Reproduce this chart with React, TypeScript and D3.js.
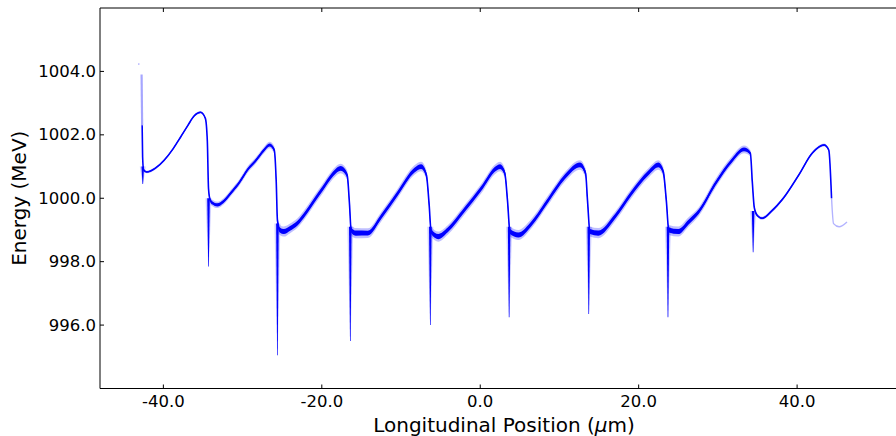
import React from "react";
import * as d3 from "d3";

// ---- data ----
const posX = [
  -42.68, -42.62, -42.5, -42.1, -41.0, -39.9, -38.8, -37.8, -36.9, -36.1, -35.3, -34.7, -34.45, -34.3, -34.1,
  -33.8, -33.2, -32.4, -31.5, -30.4, -29.4, -28.3, -27.3, -26.6, -26.0, -25.75, -25.6, -25.3, -24.8, -24.0,
  -23.1, -22.0, -20.9, -19.9, -18.85, -17.6, -16.8, -16.5, -16.3, -15.7, -14.2, -12.5, -10.4, -8.3, -7.45,
  -6.8, -6.45, -6.2, -5.3, -4.1, -2.0, 0.14, 2.0, 2.5, 3.1, 3.45, 3.75, 4.8, 6.5, 8.6, 10.7, 12.6, 13.3, 13.55,
  13.85, 14.9, 17.0, 19.1, 21.2, 22.5, 23.1, 23.5, 23.8, 25.0, 26.3, 27.6, 29.7, 31.8, 33.3, 34.1, 34.35, 34.6,
  35.0, 35.6, 36.8, 38.1, 40.2, 41.9, 43.4, 44.0, 44.35,
];
const energy = [
  1002.3, 1001.3, 1000.9, 1000.83, 1000.95, 1001.2, 1001.55, 1001.94, 1002.3, 1002.6, 1002.71, 1002.52, 1001.8, 1000.3, 999.95,
  999.85, 999.79, 999.9, 1000.16, 1000.5, 1000.89, 1001.2, 1001.52, 1001.68, 1001.52, 1000.5, 999.3, 999.0, 998.95, 999.05,
  999.21, 999.55, 999.95, 1000.3, 1000.68, 1000.94, 1000.73, 999.8, 999.0, 998.9, 998.9, 999.42, 1000.16, 1000.89, 1001.0,
  1000.73, 999.8, 998.95, 998.79, 999.0, 999.63, 1000.31, 1000.94, 1001.0, 1000.79, 999.9, 998.95, 998.84, 999.21, 999.95, 1000.68, 1001.05, 1000.79, 999.9,
  998.95, 998.9, 999.42, 1000.16, 1000.79, 1001.05, 1000.84, 999.9, 999.0, 998.95, 999.25, 999.58, 1000.47, 1001.2, 1001.54, 1001.42, 1000.5, 999.7,
  999.45, 999.37, 999.6, 999.95, 1000.73, 1001.42, 1001.68, 1001.52, 1000.0,
];
// energy spread of the band (MeV)
const spread = [
  0.02, 0.02, 0.02, 0.02, 0.02, 0.02, 0.02, 0.02, 0.02, 0.02, 0.02, 0.02, 0.03, 0.05, 0.05,
  0.05, 0.05, 0.05, 0.05, 0.05, 0.05, 0.05, 0.05, 0.05, 0.06, 0.07, 0.08, 0.08, 0.08, 0.075,
  0.075, 0.075, 0.075, 0.075, 0.075, 0.075, 0.075, 0.08, 0.08, 0.08, 0.075, 0.075, 0.075, 0.075, 0.075,
  0.075, 0.08, 0.08, 0.08, 0.075, 0.075, 0.075, 0.075, 0.075, 0.075, 0.08, 0.08, 0.08, 0.075, 0.075, 0.075, 0.075, 0.075, 0.08,
  0.08, 0.08, 0.075, 0.075, 0.075, 0.075, 0.075, 0.08, 0.08, 0.08, 0.075, 0.07, 0.07, 0.065, 0.06, 0.05, 0.04, 0.03,
  0.025, 0.025, 0.025, 0.025, 0.025, 0.025, 0.025, 0.025, 0.025,
];

// downward spikes at each drop
const spikeX = [-42.6, -34.3, -25.6, -16.4, -6.3, 3.65, 13.7, 23.7, 34.45];
const spikeTop = [1001.0, 1000.0, 999.2, 999.1, 999.1, 999.1, 999.1, 999.1, 999.6];
const spikeMin = [1000.45, 997.85, 995.05, 995.5, 996.0, 996.25, 996.35, 996.25, 998.3];

// faint head and tail of the distribution
const headX = [-42.75, -42.68];
const headE = [1003.9, 1002.3];
const strayX = [-43.1];
const strayE = [1004.23];
const tailX = [44.35, 44.6, 45.3, 46.3];
const tailE = [1000.0, 999.2, 999.1, 999.25];

const xTicks = [-40, -20, 0, 20, 40];
const yTicks = [996, 998, 1000, 1002, 1004];

const W = 896;
const H = 436;
const left = 100;
const right = 908;
const top = 8;
const bottom = 388.5;
const BLUE = "#0000ff";
const FONT = "'DejaVu Sans', sans-serif";

const fmt = (v: number) => d3.format(".1f")(v).replace("\u2212", "-");

export default function App() {
  const x = d3.scaleLinear().domain([-48, 54]).range([left, right]);
  const y = d3.scaleLinear().domain([994, 1006]).range([bottom, top]);

  const idx = posX.map((_, i) => i);
  const line = d3
    .line<number>()
    .x((i) => x(posX[i]))
    .y((i) => y(energy[i]))
    .curve(d3.curveMonotoneX);
  const band = (k: number) =>
    d3
      .area<number>()
      .x((i) => x(posX[i]))
      .y0((i) => y(energy[i] - spread[i] * k))
      .y1((i) => y(energy[i] + spread[i] * k))
      .curve(d3.curveMonotoneX);

  const headLine = d3
    .line<number>()
    .x((i) => x(headX[i]))
    .y((i) => y(headE[i]));
  const tailLine = d3
    .line<number>()
    .x((i) => x(tailX[i]))
    .y((i) => y(tailE[i]))
    .curve(d3.curveMonotoneX);

  const spikePath = (i: number, w: number) => {
    const sx = x(spikeX[i]);
    const t = y(spikeTop[i]);
    const b = y(spikeMin[i]);
    return `M${sx - w / 2},${t}L${sx + w / 2},${t}L${sx + 0.3},${b}L${sx - 0.3},${b}Z`;
  };

  return (
    <svg
      width={W}
      height={H}
      style={{ position: "absolute", left: 0, top: 0, background: "#fff" }}
      fontFamily={FONT}
    >
      <defs>
        <clipPath id="plotClip">
          <rect x={left} y={top} width={right - left} height={bottom - top} />
        </clipPath>
      </defs>
      <g clipPath="url(#plotClip)">
        <path d={band(2.0)(idx) || ""} fill={BLUE} opacity={0.25} />
        <path d={band(1)(idx) || ""} fill={BLUE} />
        <path d={line(idx) || ""} fill="none" stroke={BLUE} strokeWidth={1.6} />
        {spikeX.map((_, i) => (
          <g key={i}>
            <path d={spikePath(i, 6)} fill={BLUE} opacity={0.18} />
            <path d={spikePath(i, 2.6)} fill={BLUE} />
          </g>
        ))}
        <path
          d={headLine(headX.map((_, i) => i)) || ""}
          fill="none"
          stroke={BLUE}
          strokeWidth={2.2}
          opacity={0.35}
        />
        {strayX.map((v, i) => (
          <circle key={i} cx={x(v)} cy={y(strayE[i])} r={0.8} fill={BLUE} opacity={0.35} />
        ))}
        <path
          d={tailLine(tailX.map((_, i) => i)) || ""}
          fill="none"
          stroke={BLUE}
          strokeWidth={1.4}
          opacity={0.3}
        />
      </g>

      {/* spines */}
      <line x1={left} x2={left} y1={top} y2={bottom} stroke="#000" strokeWidth={1} />
      <line x1={left} x2={right} y1={top} y2={top} stroke="#000" strokeWidth={1} />
      <line x1={left} x2={right} y1={bottom} y2={bottom} stroke="#000" strokeWidth={1} />
      <line x1={right} x2={right} y1={top} y2={bottom} stroke="#000" strokeWidth={1} />

      {/* x ticks */}
      {xTicks.map((t) => (
        <g key={t}>
          <line x1={x(t)} x2={x(t)} y1={bottom} y2={bottom - 4} stroke="#000" />
          <line x1={x(t)} x2={x(t)} y1={top} y2={top + 4} stroke="#000" />
          <text x={x(t)} y={407} textAnchor="middle" fontSize={16.5} fill="#000">
            {fmt(t)}
          </text>
        </g>
      ))}
      {/* y ticks */}
      {yTicks.map((t) => (
        <g key={t}>
          <line x1={left} x2={left + 4} y1={y(t)} y2={y(t)} stroke="#000" />
          <text
            x={96}
            y={y(t)}
            textAnchor="end"
            dominantBaseline="central"
            fontSize={16.5}
            fill="#000"
          >
            {fmt(t)}
          </text>
        </g>
      ))}

      <text
        x={(left + right) / 2}
        y={432}
        textAnchor="middle"
        fontSize={20}
        fill="#000"
      >
        Longitudinal Position (<tspan fontStyle="italic">μ</tspan>m)
      </text>
      <text
        transform={`translate(26, ${(top + bottom) / 2}) rotate(-90)`}
        textAnchor="middle"
        fontSize={20}
        fill="#000"
      >
        Energy (MeV)
      </text>
    </svg>
  );
}
